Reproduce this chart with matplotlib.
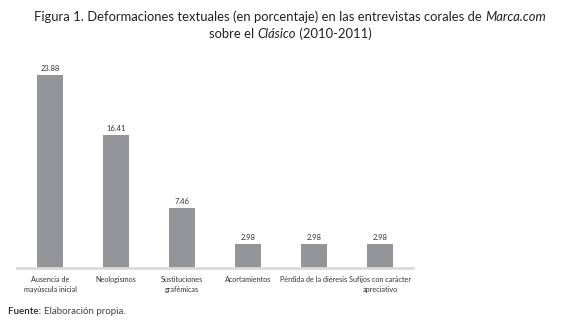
import matplotlib
matplotlib.use('Agg')
import matplotlib.pyplot as plt
from matplotlib.offsetbox import TextArea, HPacker, AnchoredOffsetbox

plt.rcParams['font.family'] = ['Lato', 'DejaVu Sans']

categories = ['Ausencia de\nmayúscula inicial', 'Neologismos', 'Sustituciones\ngrafémicas',
              'Acortamientos', 'Pérdida de la diéresis', 'Sufijos con carácter\napreciativo']
values = [23.88, 16.41, 7.46, 2.98, 2.98, 2.98]

fig = plt.figure(figsize=(5.8, 3.25), dpi=100)
ax = fig.add_axes([17 / 580, 1 - 268 / 325, 396 / 580, 208 / 325])

x = range(len(values))
ax.bar(x, values, width=0.39, color='#939598', zorder=2)
for xi, v in zip(x, values):
    ax.text(xi, v + 0.35, f'{v:.2f}', ha='center', va='bottom', fontsize=5.5, color='#333333')

ax.set_xlim(-0.5, len(values) - 0.5)
ax.set_ylim(0, 25.7)
ax.set_xticks(list(x))
ax.set_xticklabels(categories, fontsize=5.2, color='#333333', linespacing=1.5)
ax.tick_params(axis='x', length=0, pad=6)
ax.set_yticks([])
for s in ['top', 'right', 'left']:
    ax.spines[s].set_visible(False)
ax.spines['bottom'].set_color('#d9d9d9')
ax.spines['bottom'].set_linewidth(2)


def text_line(parts, xy, loc, size):
    boxes = [TextArea(t, textprops=dict(fontsize=size, color=c, style=st, weight=w))
             for t, st, w, c in parts]
    pack = HPacker(children=boxes, align='baseline', pad=0, sep=0)
    anc = AnchoredOffsetbox(loc=loc, child=pack, frameon=False,
                            bbox_to_anchor=xy, bbox_transform=fig.transFigure,
                            borderpad=0, pad=0)
    fig.add_artist(anc)


text_line([('Figura 1. Deformaciones textuales (en porcentaje) en las entrevistas corales de ', 'normal', 'normal', '#222222'),
           ('Marca.com', 'italic', 'normal', '#222222')], (0.5, 1 - 17 / 325), 'center', 9.4)
text_line([('sobre el ', 'normal', 'normal', '#222222'), ('Clásico', 'italic', 'normal', '#222222'),
           (' (2010-2011)', 'normal', 'normal', '#222222')], (0.5, 1 - 34 / 325), 'center', 9.4)

text_line([('Fuente: ', 'normal', 'semibold', '#222222'), ('Elaboración propia.', 'normal', 'normal', '#444444')],
          (8 / 580, 1 - 311 / 325), 'center left', 7)

fig.savefig('out.png', dpi=100)
